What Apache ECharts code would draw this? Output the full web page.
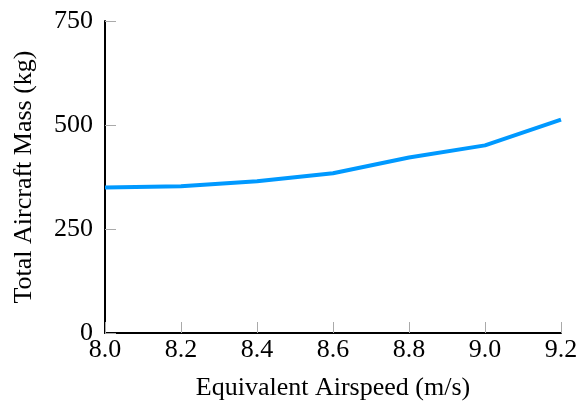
<!DOCTYPE html>
<html><head><meta charset="utf-8">
<script src="https://cdn.jsdelivr.net/npm/echarts@6/dist/echarts.min.js"></script>
<style>html,body{margin:0;padding:0;background:#fff}#c{width:586px;height:404px}</style>
</head><body><div id="c"></div>
<script>
const airspeed = [8.0, 8.2, 8.4, 8.6, 8.8, 9.0, 9.2];
const mass = [350, 353, 365, 384, 422, 451, 513];
const xTitle = 'Equivalent Airspeed (m/s)';
const yTitle = 'Total Aircraft Mass (kg)';
const font = 'Liberation Serif';
const chart = echarts.init(document.getElementById('c'));
chart.setOption({
  animation: false,
  grid: {left: 105, right: 25, top: 21, bottom: 71, containLabel: false, outerBoundsMode: 'none'},
  xAxis: {
    type: 'value', min: 8.0, max: 9.2, interval: 0.2,
    name: xTitle, nameLocation: 'middle', nameGap: 42,
    nameTextStyle: {fontFamily: font, fontSize: 26, color: '#000'},
    axisLine: {show: true, lineStyle: {color: '#000', width: 2}},
    axisTick: {show: true, inside: true, length: 11, lineStyle: {color: '#aaa', width: 1}},
    axisLabel: {fontFamily: font, fontSize: 26, color: '#000', margin: 4, formatter: v => v.toFixed(1)},
    splitLine: {show: false}
  },
  yAxis: {
    type: 'value', min: 0, max: 750, interval: 250,
    name: yTitle, nameLocation: 'middle', nameGap: 68,
    nameTextStyle: {fontFamily: font, fontSize: 26, color: '#000'},
    axisLine: {show: true, lineStyle: {color: '#000', width: 2}},
    axisTick: {show: true, inside: true, length: 11, lineStyle: {color: '#aaa', width: 1}},
    axisLabel: {fontFamily: font, fontSize: 26, color: '#000', margin: 12},
    splitLine: {show: false}
  },
  series: [{
    type: 'line', data: airspeed.map((x, i) => [x, mass[i]]),
    showSymbol: false, lineStyle: {color: '#0099ff', width: 4}
  }]
});
</script></body></html>
